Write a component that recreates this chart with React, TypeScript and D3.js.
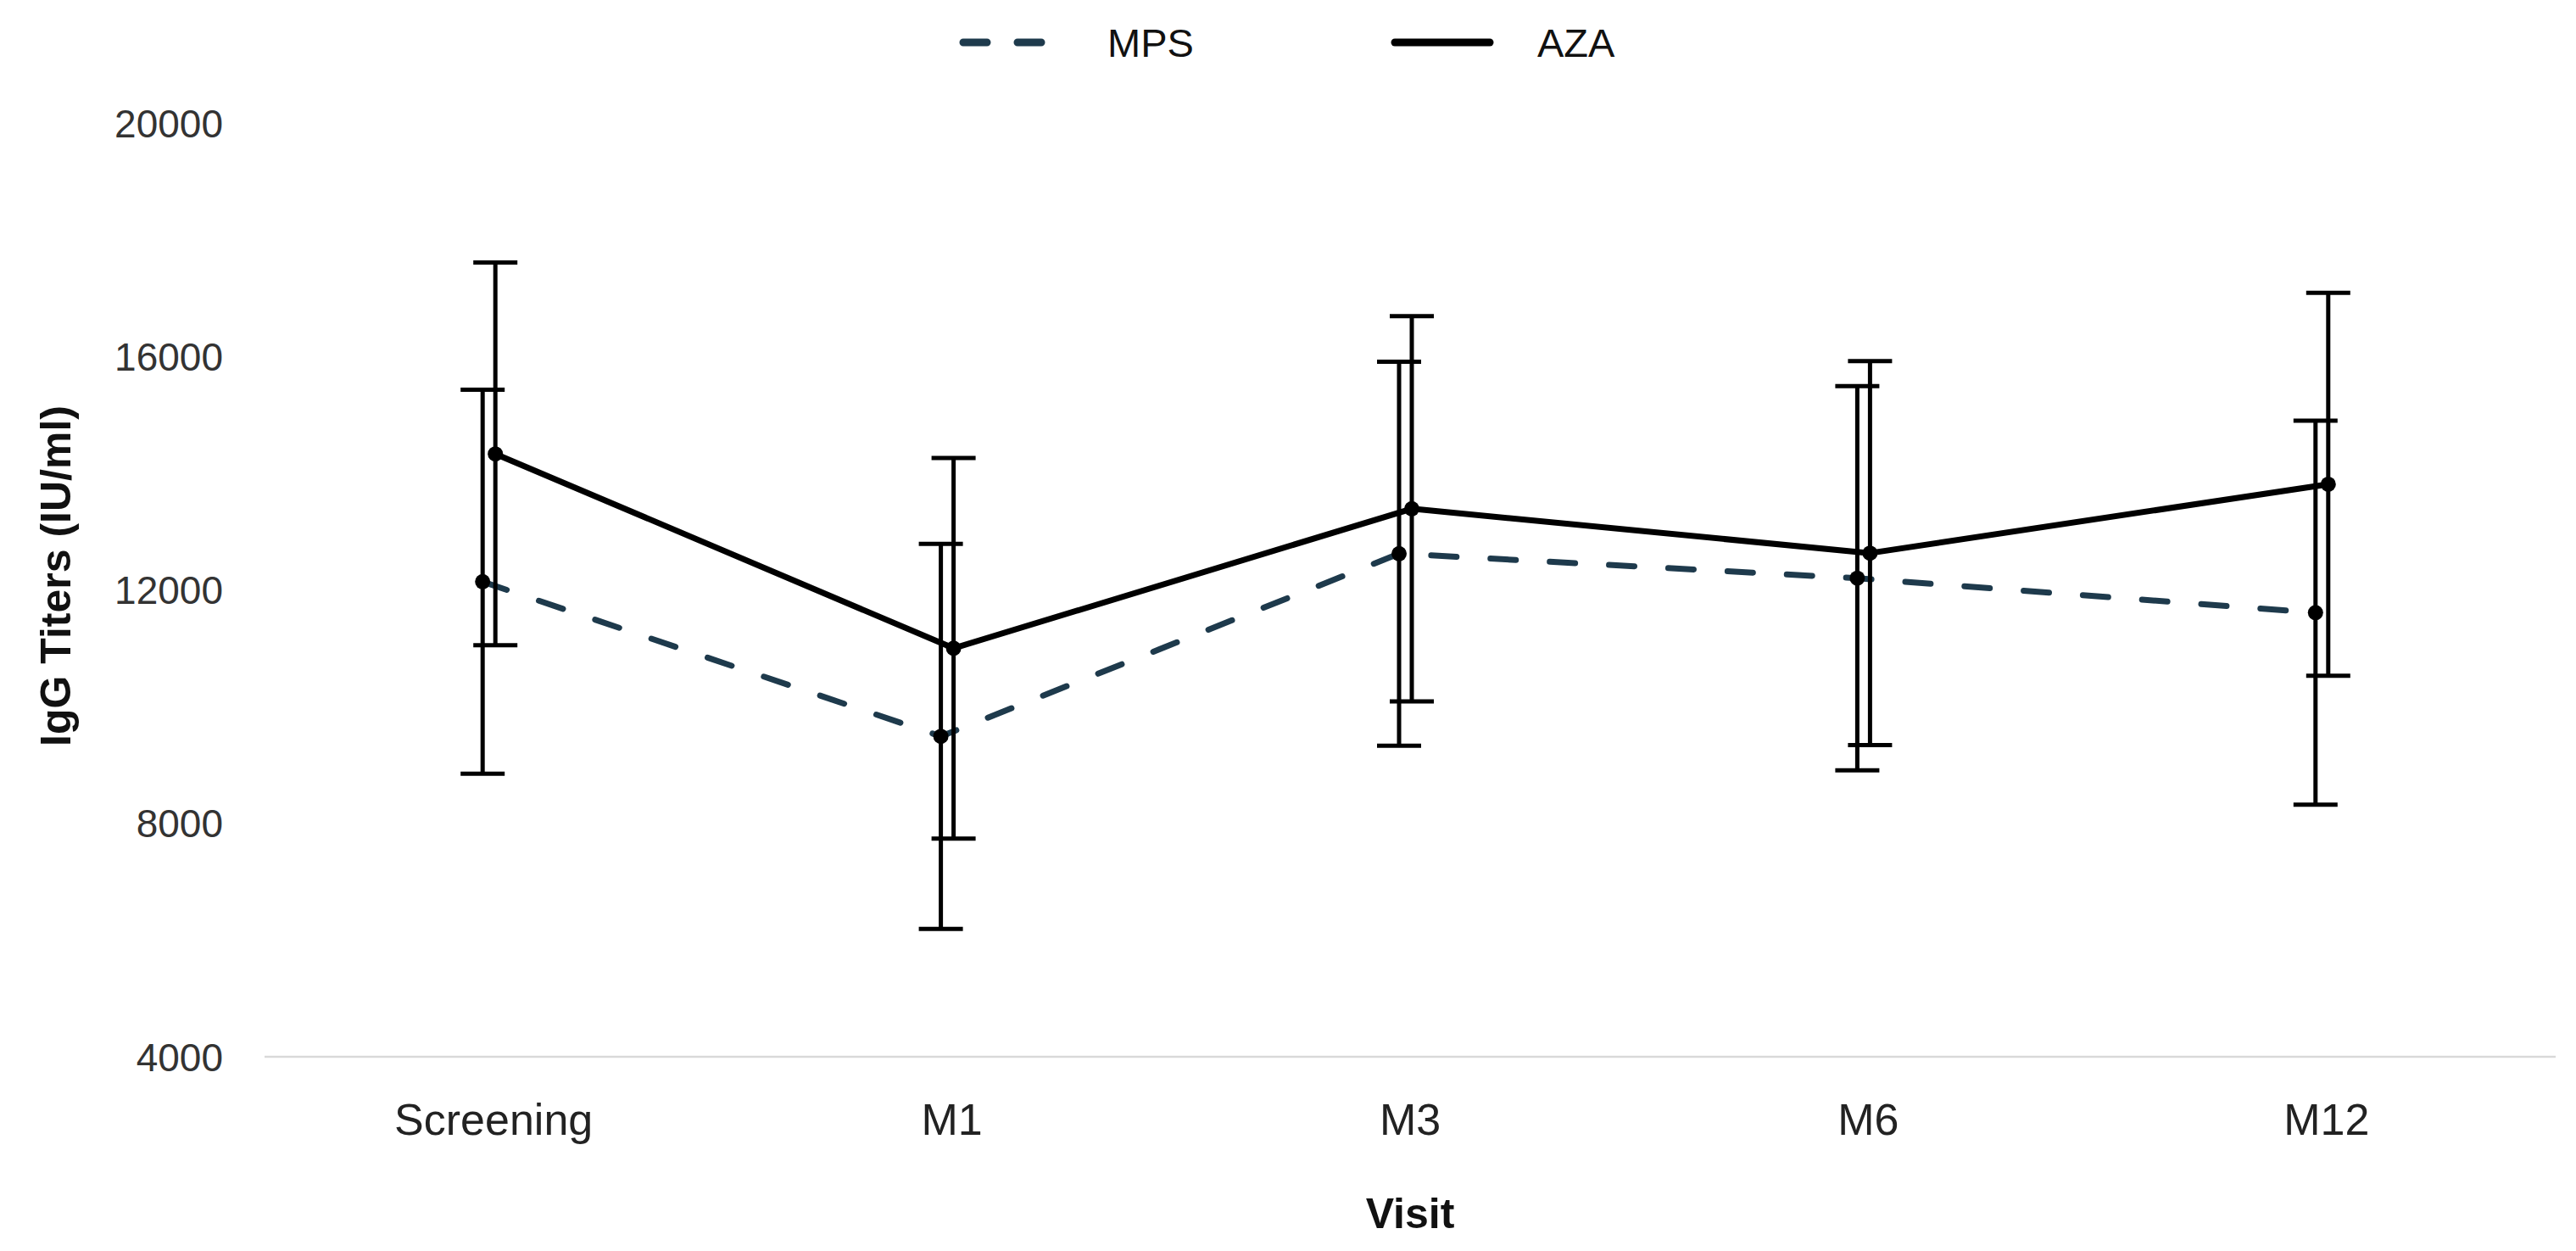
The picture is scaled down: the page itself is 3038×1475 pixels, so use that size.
import React, { useEffect, useRef } from "react";
import * as d3 from "d3";

const visits = ["Screening", "M1", "M3", "M6", "M12"];
const azaMean = [14330, 11000, 13390, 12630, 13810];
const azaErr = [3280, 3260, 3300, 3290, 3280];
const mpsMean = [12140, 9490, 12620, 12200, 11610];
const mpsErr = [3290, 3300, 3290, 3290, 3290];
const yTicks = [4000, 8000, 12000, 16000, 20000];

interface Series {
    name: string;
    mean: number[];
    err: number[];
    color: string;
    dash: string | null;
    offset: number;
}

const W = 3038;
const H = 1475;
const FONT = "'Liberation Sans', Arial, sans-serif";

const App: React.FC = () => {
    const svgRef = useRef<SVGSVGElement | null>(null);

    useEffect(() => {
        document.body.style.margin = "0";
        if (!svgRef.current) return;

        d3.select(svgRef.current).selectAll("*").remove();
        const svg = d3.select(svgRef.current);

        const x = d3.scalePoint<string>().domain(visits).range([312, 3014]).padding(0.5);
        const y = d3.scaleLinear().domain([4000, 20000]).range([1246, 145]);

        const series: Series[] = [
            { name: "MPS", mean: mpsMean, err: mpsErr, color: "#1e3a4c", dash: "30,40", offset: -13 },
            { name: "AZA", mean: azaMean, err: azaErr, color: "#000000", dash: null, offset: 2 },
        ];

        svg.append("rect").attr("width", W).attr("height", H).attr("fill", "#ffffff");

        // baseline
        svg.append("line")
            .attr("x1", 312)
            .attr("x2", 3014)
            .attr("y1", y(4000))
            .attr("y2", y(4000))
            .attr("stroke", "#d9d9d9")
            .attr("stroke-width", 2.5);

        // Y tick labels
        svg.append("g")
            .selectAll("text")
            .data(yTicks)
            .enter()
            .append("text")
            .attr("x", 263)
            .attr("y", (d) => y(d))
            .attr("dy", "0.36em")
            .attr("text-anchor", "end")
            .style("font-family", FONT)
            .style("font-size", "46px")
            .attr("fill", "#333")
            .text((d) => d);

        // X tick labels
        svg.append("g")
            .selectAll("text")
            .data(visits)
            .enter()
            .append("text")
            .attr("x", (d) => x(d) ?? 0)
            .attr("y", 1338)
            .attr("text-anchor", "middle")
            .style("font-family", FONT)
            .style("font-size", "52px")
            .attr("fill", "#222")
            .text((d) => d);

        // Axis titles
        svg.append("text")
            .attr("x", 1663)
            .attr("y", 1448)
            .attr("text-anchor", "middle")
            .style("font-family", FONT)
            .style("font-size", "50px")
            .style("font-weight", "bold")
            .attr("fill", "#111")
            .text("Visit");

        svg.append("text")
            .attr("transform", "translate(83,679) rotate(-90)")
            .attr("text-anchor", "middle")
            .style("font-family", FONT)
            .style("font-size", "50px")
            .style("font-weight", "bold")
            .attr("fill", "#111")
            .text("IgG Titers (IU/ml)");

        const px = (s: Series, i: number) => (x(visits[i]) ?? 0) + s.offset;

        // Lines
        series.forEach((s) => {
            const line = d3
                .line<number>()
                .x((_, i) => px(s, i))
                .y((d) => y(d));
            svg.append("path")
                .datum(s.mean)
                .attr("d", line)
                .attr("fill", "none")
                .attr("stroke", s.color)
                .attr("stroke-width", 7)
                .attr("stroke-linecap", s.dash ? "round" : "butt")
                .attr("stroke-linejoin", "round")
                .attr("stroke-dasharray", s.dash);
        });

        // Error bars
        series.forEach((s) => {
            const g = svg.append("g").attr("stroke", "#000").attr("stroke-width", 5);
            s.mean.forEach((m, i) => {
                const cx = px(s, i);
                const top = y(m + s.err[i]);
                const bot = y(m - s.err[i]);
                g.append("line").attr("x1", cx).attr("x2", cx).attr("y1", top).attr("y2", bot);
                g.append("line").attr("x1", cx - 26).attr("x2", cx + 26).attr("y1", top).attr("y2", top);
                g.append("line").attr("x1", cx - 26).attr("x2", cx + 26).attr("y1", bot).attr("y2", bot);
            });
        });

        // Markers
        series.forEach((s) => {
            svg.append("g")
                .selectAll("circle")
                .data(s.mean)
                .enter()
                .append("circle")
                .attr("cx", (_, i) => px(s, i))
                .attr("cy", (d) => y(d))
                .attr("r", 9)
                .attr("fill", "#000");
        });

        // Legend
        const legend = [
            { s: series[0], x1: 1136, x2: 1234, tx: 1306 },
            { s: series[1], x1: 1645, x2: 1757, tx: 1813 },
        ];
        legend.forEach((l) => {
            svg.append("line")
                .attr("x1", l.x1)
                .attr("x2", l.x2)
                .attr("y1", 50)
                .attr("y2", 50)
                .attr("stroke", l.s.color)
                .attr("stroke-width", 9)
                .attr("stroke-linecap", "round")
                .attr("stroke-dasharray", l.s.dash ? "28,36" : null);
            svg.append("text")
                .attr("x", l.tx)
                .attr("y", 50)
                .attr("dy", "0.36em")
                .style("font-family", FONT)
                .style("font-size", "47px")
                .attr("fill", "#111")
                .text(l.s.name);
        });
    }, []);

    return <svg ref={svgRef} width={W} height={H} style={{ display: "block" }}></svg>;
};

export default App;
